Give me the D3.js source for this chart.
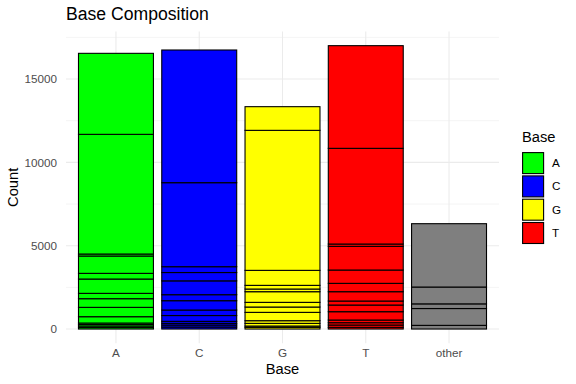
<!DOCTYPE html>
<html>
<head>
<meta charset="utf-8">
<script src="https://cdn.jsdelivr.net/npm/d3@7"></script>
<style>
  body { margin: 0; background: #fff; }
  text { font-family: "Liberation Sans", Arial, sans-serif; }
</style>
</head>
<body>
<svg id="chart" width="576" height="384"></svg>
<script>
// categories and the per-base segment counts (bottom to top of each bar)
var bases = ["A", "C", "G", "T", "other"];
var segA = [90, 90, 90, 90, 380, 560, 520, 320, 860, 340, 1040, 120, 7180, 4860];
var segC = [120, 120, 100, 120, 350, 330, 560, 360, 830, 500, 350, 5040, 7960];
var segG = [100, 80, 160, 160, 500, 320, 280, 640, 160, 220, 900, 8400, 1420];
var segT = [100, 140, 140, 160, 500, 400, 240, 560, 500, 800, 1420, 140, 5740, 6160];
var segOther = [220, 1010, 280, 1010, 3800];
var legendBases = ["A", "C", "G", "T"];
var yTicks = [0, 5000, 10000, 15000];
var yMinor = [2500, 7500, 12500, 17500];

var fills = {A: "#00FF00", C: "#0000FF", G: "#FFFF00", T: "#FF0000", other: "#7F7F7F"};
var segs = {A: segA, C: segC, G: segG, T: segT, other: segOther};

// panel edges ("top" is taken by window.top, so prefix them)
var pLeft = 66, pRight = 499, pTop = 31.5, pBottom = 343.2;
var svg = d3.select("#chart");

var maxTotal = d3.max(bases, function(b){ return d3.sum(segs[b]); });
var pad = maxTotal * 0.05;

var x = d3.scaleBand()
          .domain(bases)
          .range([pLeft, pRight])
          .paddingInner(0.1)
          .paddingOuter(0.15);
var y = d3.scaleLinear()
          .domain([-pad, maxTotal + pad])
          .range([pBottom, pTop]);

// grid (theme_minimal)
var grid = svg.append("g");
grid.selectAll("line.minor")
    .data(yMinor.filter(function(d){ return d <= maxTotal + pad; }))
    .enter().append("line")
    .attr("x1", pLeft).attr("x2", pRight)
    .attr("y1", function(d){ return y(d); }).attr("y2", function(d){ return y(d); })
    .attr("stroke", "#ebebeb").attr("stroke-width", 0.55);
grid.selectAll("line.major")
    .data(yTicks)
    .enter().append("line")
    .attr("x1", pLeft).attr("x2", pRight)
    .attr("y1", function(d){ return y(d); }).attr("y2", function(d){ return y(d); })
    .attr("stroke", "#ebebeb").attr("stroke-width", 1.07);
grid.selectAll("line.vx")
    .data(bases)
    .enter().append("line")
    .attr("x1", function(d){ return x(d) + x.bandwidth() / 2; })
    .attr("x2", function(d){ return x(d) + x.bandwidth() / 2; })
    .attr("y1", pTop).attr("y2", pBottom)
    .attr("stroke", "#ebebeb").attr("stroke-width", 1.07);

// stacked segments
var rects = [];
bases.forEach(function(b){
  var cum = d3.cumsum(segs[b]);
  segs[b].forEach(function(v, i){
    rects.push({base: b, y0: cum[i] - v, y1: cum[i]});
  });
});

svg.append("g").selectAll("rect")
    .data(rects)
    .enter().append("rect")
    .attr("x", function(d){ return x(d.base); })
    .attr("width", x.bandwidth())
    .attr("y", function(d){ return y(d.y1); })
    .attr("height", function(d){ return y(d.y0) - y(d.y1); })
    .attr("fill", function(d){ return fills[d.base]; })
    .attr("stroke", "#000")
    .attr("stroke-width", 1.1);

// axes (no lines, just labels)
var yAxis = svg.append("g")
    .attr("transform", "translate(" + (pLeft - 2) + ",0)")
    .call(d3.axisLeft(y).tickValues(yTicks).tickSize(0).tickPadding(7).tickFormat(d3.format("d")));
yAxis.select(".domain").remove();
yAxis.selectAll("text").attr("fill", "#4d4d4d").style("font-size", "11.7px").style("font-family", "Liberation Sans, Arial, sans-serif");

var xAxis = svg.append("g")
    .attr("transform", "translate(0," + pBottom + ")")
    .call(d3.axisBottom(x).tickSize(0).tickPadding(6));
xAxis.select(".domain").remove();
xAxis.selectAll("text").attr("fill", "#4d4d4d").style("font-size", "11.7px").style("font-family", "Liberation Sans, Arial, sans-serif");

// titles
svg.append("text")
    .attr("x", pLeft).attr("y", 20)
    .style("font-size", "17.6px")
    .text("Base Composition");
svg.append("text")
    .attr("x", (pLeft + pRight) / 2).attr("y", 374)
    .attr("text-anchor", "middle")
    .style("font-size", "14.7px")
    .text("Base");
svg.append("text")
    .attr("transform", "translate(18," + ((pTop + pBottom) / 2) + ") rotate(-90)")
    .attr("text-anchor", "middle")
    .style("font-size", "14.7px")
    .text("Count");

// legend
var lg = svg.append("g").attr("transform", "translate(522,0)");
lg.append("text")
    .attr("x", 0).attr("y", 142)
    .style("font-size", "14.7px")
    .text("Base");
var keys = lg.selectAll("g.key")
    .data(legendBases)
    .enter().append("g")
    .attr("transform", function(d, i){ return "translate(0," + (152 + i * 23.3) + ")"; });
keys.append("rect")
    .attr("x", 0.6).attr("y", 0.6)
    .attr("width", 21).attr("height", 21)
    .attr("fill", function(d){ return fills[d]; })
    .attr("stroke", "#000")
    .attr("stroke-width", 1.1);
keys.append("text")
    .attr("x", 30).attr("y", 11)
    .attr("dy", "0.35em")
    .style("font-size", "11.7px")
    .attr("fill", "#000")
    .text(function(d){ return d; });
</script>
</body>
</html>
